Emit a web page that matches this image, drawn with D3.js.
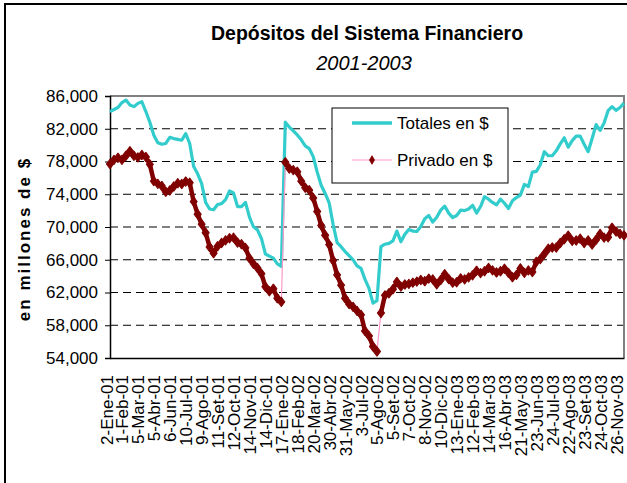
<!DOCTYPE html>
<html>
<head>
<meta charset="utf-8">
<script src="https://cdn.jsdelivr.net/npm/d3@7/dist/d3.min.js"></script>
<style>
  html, body { margin: 0; padding: 0; background: #fff; overflow: hidden; }
  svg { display: block; font-family: "Liberation Sans", Arial, sans-serif; }
</style>
</head>
<body>
<svg id="chart" width="627" height="483"></svg>
<script>
// ---- Data ----
const title = "Depósitos del Sistema Financiero";
const subtitle = "2001-2003";
const yAxisTitle = "en millones de $";
const seriesNames = ["Totales en $", "Privado en $"];

// Category labels shown on the x axis (one every 4 sampled points)
const xLabels = ["2-Ene-01","1-Feb-01","5-Mar-01","5-Abr-01","6-Jun-01","10-Jul-01","9-Ago-01",
  "11-Set-01","12-Oct-01","14-Nov-01","14-Dic-01","17-Ene-02","18-Feb-02","20-Mar-02","30-Abr-02",
  "31-May-02","3-Jul-02","5-Ago-02","5-Set-02","7-Oct-02","8-Nov-02","10-Dic-02","13-Ene-03",
  "12-Feb-03","14-Mar-03","16-Abr-03","21-May-03","23-Jun-03","24-Jul-03","22-Ago-03","23-Set-03",
  "24-Oct-03","26-Nov-03"];
const labelEvery = 4;

const yTicks = [54000, 58000, 62000, 66000, 70000, 74000, 78000, 82000, 86000];

const totales = [84100,84350,84600,85200,85500,84900,84700,85100,85300,84100,
  82800,81200,80300,80100,80200,80950,80800,80700,80600,81400,
  80200,77400,76500,75300,73000,72200,72100,72750,72850,73350,
  74400,74150,72500,72500,73000,71200,70030,69650,68600,66700,
  66450,66200,65500,65200,82800,82200,81750,81250,80650,79900,
  79580,78600,76700,75100,74100,72950,70300,68100,67600,67000,
  66500,66000,65250,64950,63600,62500,60700,61000,67600,67900,
  68000,68300,69500,68200,69100,69700,69500,69450,70050,71000,
  71400,70600,71200,72060,72550,71700,71150,71400,72050,72000,
  72200,72650,71700,72500,73700,73400,73000,72700,73400,72900,
  72250,73200,73600,73900,75200,74950,76700,76800,77600,79200,
  78700,78700,79300,80150,80900,79750,80550,81100,81100,80100,
  79200,80800,82500,81800,82700,84200,84700,84250,84600,85130];

const privado = [77700,78200,78450,78200,78700,79250,78700,78500,78800,78550,
  77650,75600,75270,75000,74300,74460,74950,75350,75250,75550,
  75400,73100,71550,70350,69300,67560,66800,67650,68050,68370,
  68630,68700,68100,67900,67450,66180,65500,65000,64300,62700,
  62150,62450,61300,60850,77900,77140,76940,76750,75600,74800,
  74500,73550,71900,70200,69000,67850,65900,64150,62900,61300,
  60600,60250,59750,59270,57300,56700,55400,54800,59500,61650,
  61900,62400,63300,62720,62980,63050,63200,63330,63530,63380,
  63700,63600,63000,63530,64250,63650,63200,63250,63730,63600,
  63850,64100,64650,64370,64600,65000,64700,64450,64600,64900,
  64400,63870,64150,64950,64400,64700,64500,65750,66080,66700,
  67350,67500,67500,68050,68500,68950,68300,68350,68570,68050,
  68370,67850,68450,69150,68700,68750,69900,69450,69150,68980];

// ---- Layout / style ----
const plot = { left: 110, right: 624, top: 96, bottom: 358 };
const colTot = "#33CCCC";
const colPrivLine = "#FF99CC";
const colPrivMark = "#800000";

const svg = d3.select("#chart");

// outer chart frame
svg.append("rect")
  .attr("x", 5).attr("y", 4).attr("width", 660).attr("height", 520)
  .attr("fill", "#fff").attr("stroke", "#000").attr("stroke-width", 2);

const x = d3.scaleLinear().domain([0, totales.length - 1]).range([plot.left, plot.right]);
const y = d3.scaleLinear().domain([54000, 86000]).range([plot.bottom, plot.top]);

// gridlines
svg.append("g").selectAll("line")
  .data(yTicks.filter(v => v !== 54000 && v !== 86000))
  .join("line")
  .attr("x1", plot.left).attr("x2", plot.right)
  .attr("y1", d => y(d)).attr("y2", d => y(d))
  .attr("stroke", "#000").attr("stroke-width", 1)
  .attr("stroke-dasharray", "8,5");

// plot border top/right (gray)
svg.append("path")
  .attr("d", `M${plot.left},${plot.top}H${plot.right}V${plot.bottom}`)
  .attr("fill", "none").attr("stroke", "#808080").attr("stroke-width", 2);

// Y axis
const yAxis = d3.axisLeft(y).tickValues(yTicks).tickFormat(d3.format(",")).tickSize(5).tickPadding(7);
const gy = svg.append("g").attr("transform", `translate(${plot.left},0)`).call(yAxis);
gy.select(".domain").attr("stroke", "#000").attr("stroke-width", 1.5);
gy.selectAll(".tick line").attr("stroke", "#000");
gy.selectAll(".tick text").attr("font-size", 17).attr("fill", "#000")
  .attr("font-family", "'Liberation Sans', Arial, sans-serif");

// X axis (category labels, rotated)
const labelIdx = xLabels.map((d, i) => i * labelEvery);
const xAxis = d3.axisBottom(x).tickValues(labelIdx).tickFormat((d, i) => xLabels[i]).tickSize(0).tickPadding(0);
const gx = svg.append("g").attr("transform", `translate(0,${plot.bottom})`).call(xAxis);
gx.select(".domain").attr("stroke", "#000").attr("stroke-width", 1.5);
gx.selectAll(".tick text")
  .attr("font-size", 17).attr("fill", "#000")
  .attr("font-family", "'Liberation Sans', Arial, sans-serif")
  .attr("text-anchor", "end")
  .attr("transform", "translate(0,17) rotate(-90)")
  .attr("x", 0).attr("y", 0).attr("dy", "0.12em");

// Totales line
const line = (arr) => d3.line().x((d, i) => x(i)).y(d => y(d))(arr);
svg.append("path").attr("d", line(totales))
  .attr("fill", "none").attr("stroke", colTot).attr("stroke-width", 3.2)
  .attr("stroke-linejoin", "round");

// Privado: thin pink connecting line
svg.append("path").attr("d", line(privado))
  .attr("fill", "none").attr("stroke", colPrivLine).attr("stroke-width", 1.2);

// Privado: the daily diamond markers are so dense that they form a dark band;
// render that band between neighbouring points when they are close together.
const pairs = d3.pairs(privado.map((v, i) => [i, v]));
svg.append("g").selectAll("line")
  .data(pairs.filter(([a, b]) => Math.abs(y(a[1]) - y(b[1])) < 19))
  .join("line")
  .attr("x1", d => x(d[0][0])).attr("y1", d => y(d[0][1]))
  .attr("x2", d => x(d[1][0])).attr("y2", d => y(d[1][1]))
  .attr("stroke", colPrivMark).attr("stroke-width", 4.5).attr("stroke-linecap", "round");

const diamond = d3.symbol().type(d3.symbolDiamond).size(26);
svg.append("g").selectAll("path")
  .data(privado)
  .join("path")
  .attr("d", diamond)
  .attr("transform", (d, i) => `translate(${x(i)},${y(d)}) scale(1.3,1)`)
  .attr("fill", colPrivMark).attr("stroke", colPrivMark).attr("stroke-width", 0.8)
  .attr("stroke-linejoin", "round");

// Titles
const cx = (plot.left + plot.right) / 2;
svg.append("text").attr("x", cx).attr("y", 40).attr("text-anchor", "middle")
  .attr("font-size", 19.5).attr("font-weight", "bold").text(title);
svg.append("text").attr("x", cx - 3).attr("y", 70).attr("text-anchor", "middle")
  .attr("font-size", 20).attr("font-style", "italic").text(subtitle);

// Y axis title
svg.append("text")
  .attr("transform", `translate(30,239) rotate(-90)`)
  .attr("text-anchor", "middle")
  .attr("font-size", 17).attr("font-weight", "bold").attr("letter-spacing", 2)
  .text(yAxisTitle);

// Legend
const lg = svg.append("g");
lg.append("rect").attr("x", 332).attr("y", 108).attr("width", 176).attr("height", 75)
  .attr("fill", "#fff").attr("stroke", "#000").attr("stroke-width", 1);
lg.append("line").attr("x1", 352).attr("x2", 392).attr("y1", 123).attr("y2", 123)
  .attr("stroke", colTot).attr("stroke-width", 3.5);
lg.append("text").attr("x", 397).attr("y", 129).attr("font-size", 17).text(seriesNames[0]);
lg.append("line").attr("x1", 352).attr("x2", 392).attr("y1", 160).attr("y2", 160)
  .attr("stroke", colPrivLine).attr("stroke-width", 1.2);
lg.append("path").attr("d", d3.symbol().type(d3.symbolDiamond).size(22)).attr("transform", "translate(372,160)")
  .attr("fill", colPrivMark).attr("stroke", colPrivMark).attr("stroke-width", 0.8);
lg.append("text").attr("x", 397).attr("y", 166).attr("font-size", 17).text(seriesNames[1]);
</script>
</body>
</html>
